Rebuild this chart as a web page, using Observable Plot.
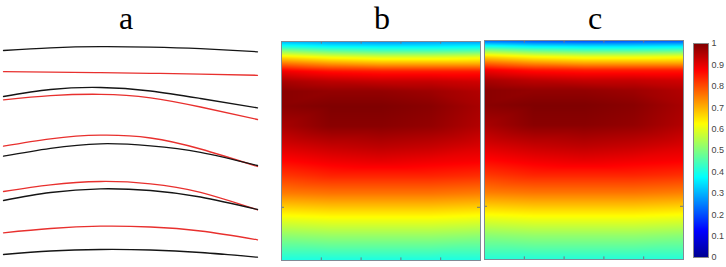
<!DOCTYPE html>
<html><head><meta charset="utf-8">
<script src="https://cdn.jsdelivr.net/npm/d3@7"></script>
<script src="https://cdn.jsdelivr.net/npm/@observablehq/plot@0.6"></script>
<style>
body{margin:0;background:#fff;}
#fig{position:relative;width:726px;height:267px;overflow:hidden;background:#fff;}
.p{position:absolute;}
.ttl{position:absolute;top:0;font-family:"Liberation Serif","DejaVu Serif",serif;font-size:32px;line-height:36px;text-align:center;width:60px;color:#000;}
</style></head><body><div id="fig"></div>
<script>
// ---- titles ----
const panelTitles = ["a", "b", "c"];

// ---- panel a: curve samples (x, y; y grows downward) ----
const curveX  = [3, 50, 100, 150, 200, 257];
const black1  = [50.0, 47.3, 46.1, 46.6, 48.2, 51.3];
const red2    = [71.2, 71.6, 72.1, 72.8, 73.7, 74.8];
const black3  = [96.0, 89.0, 87.0, 90.5, 98.0, 107.3];
const red4    = [99.3, 95.2, 93.8, 97.3, 106.5, 119.0];
const red5    = [145.7, 138.3, 134.7, 137.5, 148.5, 166.0];
const black6  = [155.7, 147.8, 143.3, 145.3, 151.8, 165.0];
const red7    = [191.0, 184.3, 181.0, 183.3, 191.8, 209.3];
const black8  = [200.0, 192.0, 188.3, 190.0, 196.5, 209.0];
const red9    = [232.3, 228.0, 225.7, 226.5, 230.5, 239.3];
const black10 = [254.0, 250.5, 249.0, 249.5, 252.0, 256.7];

// ---- heatmaps: sampled values on a grid (columns across, rows top->bottom) ----
const heatCols = [0, 0.25, 0.5, 0.75, 1];
const heatRows = [0, 0.023, 0.045, 0.073, 0.105, 0.136, 0.182, 0.227, 0.295, 0.386, 0.482, 0.545, 0.614, 0.695, 0.814, 0.891, 1];
const heatB = [
  [0.30, 0.28, 0.27, 0.28, 0.28],
  [0.40, 0.37, 0.36, 0.36, 0.37],
  [0.52, 0.48, 0.46, 0.46, 0.47],
  [0.66, 0.62, 0.60, 0.60, 0.61],
  [0.78, 0.74, 0.72, 0.72, 0.72],
  [0.89, 0.86, 0.85, 0.85, 0.85],
  [0.96, 0.94, 0.93, 0.93, 0.92],
  [0.99, 0.98, 0.98, 0.97, 0.95],
  [0.99, 1.00, 1.00, 0.99, 0.96],
  [0.96, 0.99, 0.99, 0.98, 0.95],
  [0.91, 0.93, 0.94, 0.93, 0.91],
  [0.87, 0.89, 0.90, 0.89, 0.88],
  [0.82, 0.84, 0.84, 0.84, 0.83],
  [0.75, 0.76, 0.76, 0.76, 0.75],
  [0.60, 0.61, 0.61, 0.61, 0.60],
  [0.51, 0.52, 0.52, 0.52, 0.51],
  [0.40, 0.40, 0.40, 0.40, 0.40]
];
const heatC = [
  [0.22, 0.20, 0.19, 0.20, 0.20],
  [0.37, 0.34, 0.33, 0.33, 0.34],
  [0.51, 0.47, 0.45, 0.45, 0.46],
  [0.66, 0.62, 0.60, 0.60, 0.61],
  [0.78, 0.74, 0.72, 0.72, 0.72],
  [0.89, 0.86, 0.85, 0.85, 0.85],
  [0.96, 0.94, 0.93, 0.93, 0.92],
  [0.99, 0.98, 0.98, 0.97, 0.95],
  [0.99, 1.00, 1.00, 0.99, 0.96],
  [0.96, 0.99, 0.99, 0.98, 0.95],
  [0.91, 0.93, 0.94, 0.93, 0.91],
  [0.87, 0.89, 0.90, 0.89, 0.88],
  [0.82, 0.84, 0.84, 0.84, 0.83],
  [0.75, 0.76, 0.76, 0.76, 0.75],
  [0.60, 0.61, 0.61, 0.61, 0.60],
  [0.51, 0.52, 0.52, 0.52, 0.51],
  [0.41, 0.41, 0.41, 0.41, 0.41]
];
const heatTicksX = [0.2, 0.4, 0.6, 0.8];
const heatTicksY = [0.757];

// ---- colorbar ----
const cbTicks = [0, 0.1, 0.2, 0.3, 0.4, 0.5, 0.6, 0.7, 0.8, 0.9, 1];
const jetStops  = [0, 0.125, 0.375, 0.625, 0.875, 1];
const jetColors = ["#000090", "#0000ff", "#00ffff", "#ffff00", "#ff0000", "#800000"];

const jet = d3.scaleLinear().domain(jetStops).range(jetColors).interpolate(d3.interpolateRgb).clamp(true);
const colorSpec = {type: "linear", domain: [0, 1], interpolate: (t) => jet(t), clamp: true};

const fig = document.getElementById("fig");
function place(el, left, top) {
  el.classList.add("p");
  el.style.left = left + "px";
  el.style.top = top + "px";
  fig.appendChild(el);
}

// panel a
const curveDefs = [
  ["k", black1], ["r", red2], ["k", black3], ["r", red4], ["r", red5],
  ["k", black6], ["r", red7], ["k", black8], ["r", red9], ["k", black10]
];
const lineData = [];
curveDefs.forEach(([c, ys], i) => ys.forEach((y, j) => lineData.push({id: i, c, x: curveX[j], y})));
const pa = Plot.plot({
  width: 270, height: 267, margin: 0,
  x: {domain: [0, 270], axis: null},
  y: {domain: [0, 267], reverse: true, axis: null},
  marks: [
    Plot.line(lineData, {x: "x", y: "y", z: "id", stroke: d => d.c === "k" ? "#151515" : "#e8302e",
      strokeWidth: 1.3, curve: "natural"})
  ]
});
place(pa, 0, 0);

function gridData(grid) {
  const out = [];
  grid.forEach((row, i) => row.forEach((v, j) => out.push({u: heatCols[j], v: heatRows[i], value: v})));
  return out;
}
function heatPlot(grid, w, h) {
  return Plot.plot({
    width: w, height: h, margin: 1,
    x: {domain: [0, 1], axis: null},
    y: {domain: [0, 1], reverse: true, axis: null},
    color: colorSpec,
    marks: [
      Plot.raster(gridData(grid), {x: "u", y: "v", fill: "value", interpolate: "barycentric", x1: 0, x2: 1, y1: 0, y2: 1}),
      Plot.ruleX(heatTicksX, {y1: 1, y2: 0.988, stroke: "#6f7780"}),
      Plot.ruleX(heatTicksX, {y1: 0, y2: 0.012, stroke: "#6f7780"}),
      Plot.ruleY(heatTicksY, {x1: 0, x2: 0.015, stroke: "#6f7780"}),
      Plot.ruleY(heatTicksY, {x1: 0.985, x2: 1, stroke: "#6f7780"}),
      Plot.frame({stroke: "#7f8a95"})
    ]
  });
}
place(heatPlot(heatB, 201, 221), 280, 40);
place(heatPlot(heatC, 201, 221), 483, 39);

// colorbar
const cb = Plot.plot({
  width: 36, height: 224, marginLeft: 3, marginRight: 18, marginTop: 5, marginBottom: 5,
  style: {color: "#444", fontFamily: "Liberation Sans, Arial, sans-serif", overflow: "visible"},
  x: {domain: [0, 1], axis: null},
  y: {domain: [0, 1], axis: null},
  color: colorSpec,
  marks: [
    Plot.raster({x1: 0, x2: 1, y1: 0, y2: 1, fill: (x, y) => y}),
    Plot.frame({stroke: "#8a8a8a"}),
    Plot.axisY(cbTicks, {anchor: "right", tickSize: 0, tickPadding: 3, fontSize: 9, tickFormat: d => String(d)})
  ]
});
place(cb, 690, 38);

// titles
const titleCenters = [126, 382, 595];
panelTitles.forEach((t, i) => {
  const d = document.createElement("div");
  d.className = "ttl";
  d.textContent = t;
  d.style.left = (titleCenters[i] - 30) + "px";
  fig.appendChild(d);
});
</script>
</body></html>
